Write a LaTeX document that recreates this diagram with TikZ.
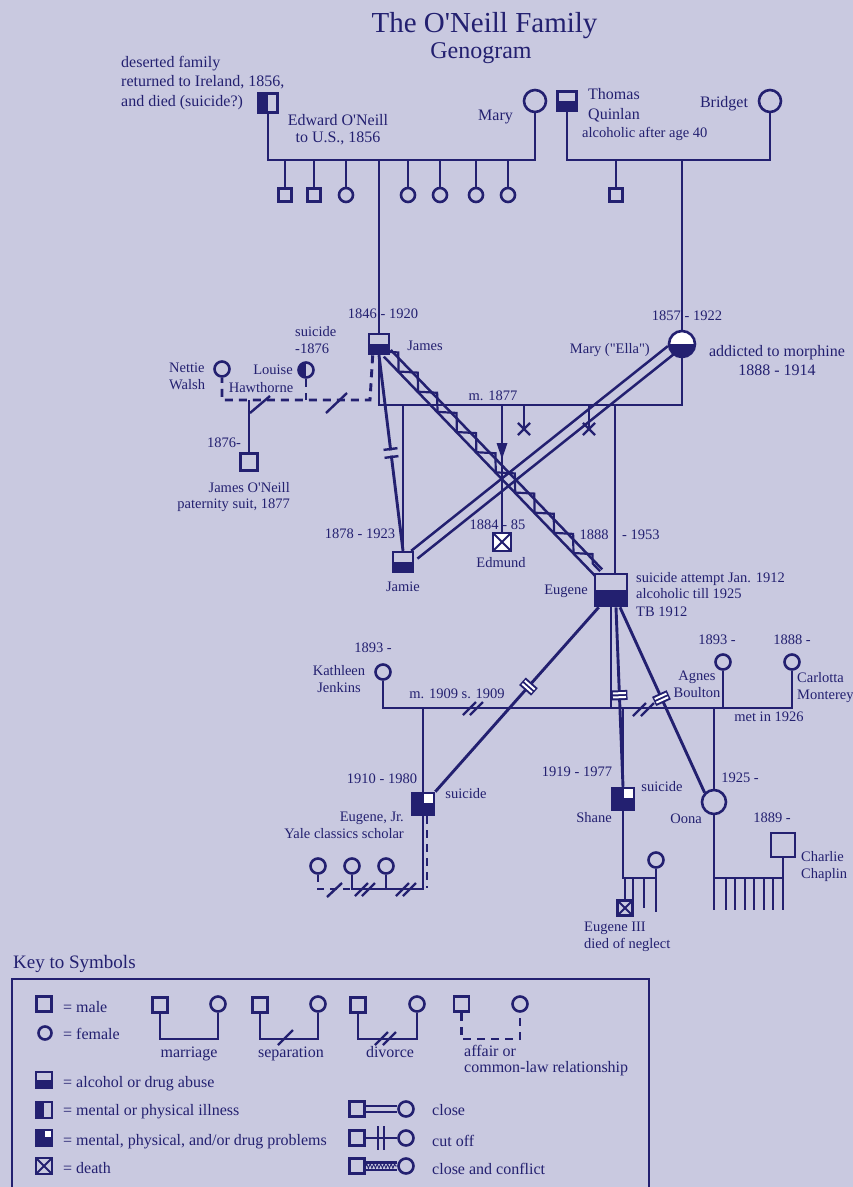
\documentclass[tikz,border=0pt]{standalone}
\usepackage{fontspec}
\setmainfont{Liberation Serif}[Ligatures=TeXOff]
\usetikzlibrary{calc,decorations.pathmorphing,decorations.markings,shapes.misc}
\definecolor{ink}{RGB}{35,32,112}
\definecolor{bgc}{RGB}{201,201,224}
\newcommand\railpair[4][]{%
  \draw[rail,#1] ($(#2)!#4!90:(#3)$) -- ($(#3)!#4!-90:(#2)$);
  \draw[rail,#1] ($(#2)!#4!-90:(#3)$) -- ($(#3)!#4!90:(#2)$);}
\begin{document}
\begin{tikzpicture}[x=1pt,y=-1pt,
  ln/.style={draw=ink,line width=2.9pt},
  mk/.style={draw=ink,line width=2.4pt},
  rail/.style={draw=ink,line width=2.5pt},
  dsh/.style={draw=ink,line width=2.9pt,dash pattern=on 8pt off 6pt},
  male/.style={draw=ink,line width=2.6pt,rectangle,minimum size=#1,inner sep=0pt},
  male/.default=18pt,
  fem/.style={draw=ink,line width=2.6pt,circle,minimum size=#1,inner sep=0pt},
  fem/.default=15pt,
  botfill/.style={path picture={\fill[ink] (path picture bounding box.west) rectangle (path picture bounding box.south east);}},
  leftfill/.style={path picture={\fill[ink] (path picture bounding box.north west) rectangle (path picture bounding box.south);}},
  ellafill/.style={path picture={\fill[white] (path picture bounding box.north west) rectangle (path picture bounding box.east);
     \fill[ink] (path picture bounding box.west) rectangle (path picture bounding box.south east);}},
  quad/.style={fill=ink,path picture={\fill[white] ($(path picture bounding box.north east)+(-#1,0)$) rectangle ($(path picture bounding box.north east)+(0,#1)$);}},
  dead/.style={path picture={\draw[ink,line width=1.9pt] (path picture bounding box.north west)--(path picture bounding box.south east) (path picture bounding box.north east)--(path picture bounding box.south west);}},
  txt/.style={text=ink,inner sep=0pt,font=\fontsize{14.5}{17}\selectfont,anchor=base},
  big/.style={text=ink,inner sep=0pt,font=\fontsize{16}{19}\selectfont,anchor=base},
  cutn/.style={postaction={decorate,decoration={markings,mark=at position #1 with {\fill[bgc] (-2.6,-3) rectangle (2.6,3); \draw[ink,line width=2.4pt] (-4,-7)--(-4,7) (4,-7)--(4,7);}}}},
  cutw/.style={postaction={decorate,decoration={markings,mark=at position #1 with {\fill[ink] (-5,-8) rectangle (5,8); \fill[white] (-3,-6.5) rectangle (-1,6.5) (1,-6.5) rectangle (3,6.5);}}}},
  arrowmark/.style={postaction={decorate,decoration={markings,mark=at position #1 with {\fill[ink] (-8,-5.5) -- (-8,5.5) -- (8,0) -- cycle;}}}},
  zz/.style={draw=ink,line width=2.2pt,decorate,decoration={zigzag,segment length=#1,amplitude=6.5pt}},
]
\fill[bgc] (0,0) rectangle (853,1187);
\useasboundingbox (0,0) rectangle (853,1187);

% ---------- title
\node[text=ink,inner sep=0pt,font=\fontsize{29}{32}\selectfont,anchor=base] (title) at (484.5,32) {The O'Neill Family};
\node[text=ink,inner sep=0pt,font=\fontsize{24}{28}\selectfont,anchor=base] (subtitle) at (481,58) {Genogram};

% ---------- O'Neill grandparents
\node[male=19pt,leftfill] (edfa) at (268,103) {};
\node[fem=22pt] (mary1) at (535,101) {};
\coordinate (m1) at (400,160);
\draw[ln] (edfa.south) |- (m1) -| (mary1.south);
\foreach \x/\n in {285/c1,314/c2} \node[male=13pt] (\n) at (\x,195) {};
\foreach \x/\n in {346/c3,408/c4,440/c5,476/c6,508/c7} \node[fem=14pt] (\n) at (\x,195) {};
\foreach \n in {c1,c2,c3,c4,c5,c6,c7} \draw[ln] (\n.north) -- (\n.north |- m1);
\node[big,anchor=base west] (la1) at (121,67) {deserted family};
\node[big,anchor=base west] (la2) at (121,86.5) {returned to Ireland, 1856,};
\node[big,anchor=base west] (la3) at (121,106) {and died (suicide?)};
\node[big] (la4) at (338,125) {Edward O'Neill};
\node[big] (la5) at (338,142) {to U.S., 1856};
\node[big] (la6) at (495.5,120) {Mary};

% ---------- Quinlan grandparents
\node[male=19pt,botfill] (thomas) at (567,101) {};
\node[fem=22pt] (bridget) at (770,101) {};
\coordinate (m2) at (682,160);
\draw[ln] (thomas.south) |- (m2) -| (bridget.south);
\node[male=13pt] (qc) at (616,195) {};
\draw[ln] (qc.north) -- (qc.north |- m2);
\node[big,anchor=base west] (lb1) at (588,99) {Thomas};
\node[big,anchor=base west] (lb2) at (588,119) {Quinlan};
\node[txt,anchor=base west] (lb3) at (582,137) {alcoholic after age 40};
\node[big] (lb4) at (724,107) {Bridget};

% ---------- James and Ella
\node[male=20pt,botfill] (james) at (379,344) {};
\draw[ln] (james.north) -- (james.north |- m1);
\node[fem=26pt,ellafill] (ella) at (682,344) {};
\draw[ln] (ella.north) -- (ella.north |- m2);
\coordinate (m3) at (500,405);
\draw[ln] (james.south) |- (m3) -| (ella.south);

\node[male=20pt,botfill] (jamie) at (403,562) {};
\draw[ln] (jamie.north) -- (jamie.north |- m3);
\node[male=18pt,fill=white,dead] (edmund) at (502,542) {};
\draw[ln,arrowmark=46pt] (edmund.north |- m3) -- (edmund.north);
\node[cross out,draw=ink,line width=2.2pt,minimum size=10pt,inner sep=0pt] (mc1) at (524,429) {};
\draw[ln] (mc1.center) -- (mc1.center |- m3);
\node[cross out,draw=ink,line width=2.2pt,minimum size=10pt,inner sep=0pt] (mc2) at (589,429) {};
\draw[ln] (mc2.center) -- (mc2.center |- m3);
\node[male=32pt,botfill] (eugene) at (611,590) {};
\coordinate (eugtop) at ($(eugene.north)+(4,0)$);
\draw[ln] (eugtop) -- (eugtop |- m3);

% cut off James - Jamie
\draw[ln,cutn=0.5] (james.south) -- (jamie.north);
% close and conflict James - Eugene
\coordinate (je1) at ($(james.south east)+(-3,-2)$);
\coordinate (je2) at ($(eugene.north west)+(5,0)$);
\railpair{je1}{je2}{4.8pt}
\coordinate (jz1) at ($(je1)!2pt!90:(je2)$);
\coordinate (jz2) at ($(je2)!2pt!-90:(je1)$);
\draw[zz=28pt] (jz1) -- (jz2);
% close Jamie - Ella
\coordinate (jm1) at ($(jamie.north east)+(0,4)$);
\coordinate (jm2) at ($(ella.center)+(-11,6)$);
\railpair{jm1}{jm2}{5pt}

% affairs of James
\node[fem=15pt] (nettie) at (222,369) {};
\node[fem=15pt,leftfill] (louise) at (306,370) {};
\coordinate (aff) at (370,400);
\draw[dsh] ($(james.south west)+(5,0)$) -- (aff) -| (nettie.south);
\draw[dsh] (louise.south) -- (louise.south |- aff);
\draw[mk] (326,413) -- (347,393);
\node[male=17pt] (haw) at (249,462) {};
\draw[ln] (haw.north) -- (haw.north |- aff);
\coordinate (hb) at (250,413);
\draw[mk] (hb) -- (270,396);

% labels middle
\node[txt] (lc1) at (383,318) {1846 - 1920};
\node[txt] (lc2) at (425,350) {James};
\node[txt,anchor=base west] (lc3) at (295,336) {suicide};
\node[txt,anchor=base west] (lc4) at (295,353) {-1876};
\node[txt] (lc5) at (273,374) {Louise};
\node[txt,anchor=base west] (lc6) at (169,372) {Nettie};
\node[txt,anchor=base west] (lc7) at (169,389) {Walsh};
\node[txt] (lc8) at (261,392) {Hawthorne};
\node[txt] (lc9) at (224,447) {1876-};
\node[txt,anchor=base east] (lc10) at (290,492) {James O'Neill};
\node[txt,anchor=base east] (lc11) at (290,508) {paternity suit, 1877};
\node[txt] (lc12) at (687,320) {1857 - 1922};
\node[txt,anchor=base east] (lc13) at (650,353) {Mary ("Ella")};
\node[big] (lc14) at (777,356) {addicted to morphine};
\node[big] (lc15) at (777,375) {1888 - 1914};
\node[txt] (lc16) at (493,400) {m. 1877};
\node[txt] (lc17) at (360,538) {1878 - 1923};
\node[txt] (lc18) at (403,591) {Jamie};
\node[txt] (lc19) at (497.5,529) {1884 - 85};
\node[txt] (lc20) at (501,567) {Edmund};
\node[txt] (lc21) at (594,539) {1888};
\node[txt,anchor=base west] (lc22) at (622,539) {- 1953};
\node[txt] (lc23) at (566,594) {Eugene};
\node[txt,anchor=base west] (lc24) at (636,582) {suicide attempt Jan. 1912};
\node[txt,anchor=base west] (lc25) at (636,598.5) {alcoholic till 1925};
\node[txt,anchor=base west] (lc26) at (636,616) {TB 1912};

% ---------- Eugene's marriages
\node[fem=15pt] (kathleen) at (383,672) {};
\node[fem=15pt] (agnes) at (723,662) {};
\node[fem=15pt] (carlotta) at (792,662) {};
\coordinate (m4) at (600,708);
\draw[ln] (kathleen.south) |- (m4) -| (carlotta.south);
\draw[ln] (agnes.south) -- (agnes.south |- m4);
\draw[ln] (eugene.south) -- (eugene.south |- m4);
\draw[mk] (463,715)--(476,702) (470,715)--(483,702);
\draw[mk] (633,716)--(646,703) (641,716)--(654,703);

\node[male=22pt,quad=10] (ejr) at (423,804) {};
\draw[ln] (ejr.north) -- (ejr.north |- m4);
\draw[ln,cutw=0.43] ($(eugene.south west)+(5,0)$) -- (ejr.north east);
\node[male=22pt,quad=10] (shane) at (623,799) {};
\draw[ln] (shane.north) -- (shane.north |- m4);
\draw[ln,cutw=0.49] ($(eugene.south)+(5,0)$) -- (shane.north);
\node[fem=24pt] (oona) at (714,802) {};
\draw[ln] (oona.north) -- (oona.north |- m4);
\draw[ln,cutw=0.49] ($(eugene.south)+(9,0)$) -- (oona.north west);

% Eugene Jr's wives
\node[fem=15pt] (w1) at (318,866) {};
\node[fem=15pt] (w2) at (352,866) {};
\node[fem=15pt] (w3) at (386,866) {};
\coordinate (m5) at (400,889);
\draw[ln] (ejr.south) |- (m5) -| (w2.south);
\draw[ln] (w3.south) -- (w3.south |- m5);
\draw[ink,line width=2.9pt,dash pattern=on 7pt off 6pt] (w1.south) |- (w2.south |- m5);
\coordinate (ejrb) at (427,888);
\draw[dsh] ($(ejr.south)+(4,0)$) -- (ejrb);
\draw[mk] (327,897)--(342,883);
\draw[mk] (355,896)--(368,883) (362,896)--(375,883);
\draw[mk] (396,896)--(409,883) (403,896)--(416,883);

% Shane's family
\node[fem=15pt] (sw) at (656,860) {};
\coordinate (m6) at (640,878);
\draw[ln] (shane.south) |- (m6) -| (sw.south);
\coordinate (swb) at (656,912);
\draw[ln] (sw.south) -- (swb);
\node[male=15pt,dead] (e3) at (625,908) {};
\draw[ln] (e3.north) -- (e3.north |- m6);
\coordinate (s1) at (633,908);
\coordinate (s2) at (644,908);
\draw[ln] (s1 |- m6) -- (s1);
\draw[ln] (s2 |- m6) -- (s2);

% Oona's family
\coordinate (ob) at (714,910);
\draw[ln] (oona.south) -- (ob);
\node[male=24pt] (charlie) at (783,845) {};
\coordinate (m7) at (750,878);
\draw[ln] (oona.south |- m7) -| (charlie.south);
\draw[ln] (charlie.south) -- (charlie.south |- ob);
\foreach \x in {726,735,745,754,764,773} {
  \coordinate (k\x) at (\x,910);
  \draw[ln] (k\x |- m7) -- (k\x);
}

% labels lower
\node[txt] (ld1) at (373,652) {1893 -};
\node[txt] (ld2) at (339,675) {Kathleen};
\node[txt] (ld3) at (339,692) {Jenkins};
\node[txt] (ld4) at (457,698) {m. 1909 s. 1909};
\node[txt] (ld5) at (382,783) {1910 - 1980};
\node[txt] (ld6) at (466,798) {suicide};
\node[txt,anchor=base east] (ld7) at (404,821) {Eugene, Jr.};
\node[txt,anchor=base east] (ld8) at (404,838) {Yale classics scholar};
\node[txt] (ld9) at (577,776) {1919 - 1977};
\node[txt] (ld10) at (662,791) {suicide};
\node[txt] (ld11) at (594,822) {Shane};
\node[txt] (ld12) at (717,644) {1893 -};
\node[txt] (ld13) at (697,680) {Agnes};
\node[txt] (ld14) at (697,697) {Boulton};
\node[txt] (ld15) at (792,644) {1888 -};
\node[txt,anchor=base west] (ld16) at (797,682) {Carlotta};
\node[txt,anchor=base west] (ld17) at (797,699) {Monterey};
\node[txt] (ld18) at (769,721) {met in 1926};
\node[txt] (ld19) at (740,782) {1925 -};
\node[txt] (ld20) at (686,823) {Oona};
\node[txt] (ld21) at (772,822) {1889 -};
\node[txt,anchor=base west] (ld22) at (801,861) {Charlie};
\node[txt,anchor=base west] (ld23) at (801,878) {Chaplin};
\node[txt,anchor=base west] (ld24) at (584,931) {Eugene III};
\node[txt,anchor=base west] (ld25) at (584,948) {died of neglect};

% ---------- key
\node[text=ink,inner sep=0pt,font=\fontsize{19}{22}\selectfont,anchor=base west] (keyt) at (13,968) {Key to Symbols};
\draw[ink,line width=1.5pt] (12,979) rectangle (649,1210);
\node[male=15pt] (k1) at (44,1004) {};
\node[big,anchor=base west] (kt1) at (63,1012) {= male};
\node[fem=13pt] (k2) at (45,1033) {};
\node[big,anchor=base west] (kt2) at (63,1039) {= female};

\node[male=15pt] (ka1) at (160,1005) {};
\node[fem=15pt] (ka2) at (218,1004) {};
\coordinate (kam) at (190,1039);
\draw[ln] (ka1.south) |- (kam) -| (ka2.south);
\node[big] (kt3) at (189,1057) {marriage};

\node[male=15pt] (ks1) at (260,1005) {};
\node[fem=15pt] (ks2) at (318,1004) {};
\coordinate (ksm) at (290,1039);
\draw[ln] (ks1.south) |- (ksm) -| (ks2.south);
\draw[mk] (278,1045)--(293,1030);
\node[big] (kt4) at (291,1057) {separation};

\node[male=15pt] (kd1) at (358,1005) {};
\node[fem=15pt] (kd2) at (417,1004) {};
\coordinate (kdm) at (388,1039);
\draw[ln] (kd1.south) |- (kdm) -| (kd2.south);
\draw[mk] (375,1045)--(388,1032) (383,1045)--(396,1032);
\node[big] (kt5) at (390,1057) {divorce};

\node[male=15pt] (kf1) at (461.5,1004) {};
\node[fem=15pt] (kf2) at (520,1004) {};
\coordinate (kfm) at (490,1039);
\draw[dsh] (kf1.south) |- (kfm) -| (kf2.south);
\node[big,anchor=base west] (kt6) at (464,1056) {affair or};
\node[big,anchor=base west] (kt7) at (464,1072) {common-law relationship};

\node[male=16pt,botfill] (ka) at (44,1080) {};
\node[big,anchor=base west] (kt8) at (63,1087) {= alcohol or drug abuse};
\node[male=16pt,leftfill] (ki) at (44,1110) {};
\node[big,anchor=base west] (kt9) at (63,1115) {= mental or physical illness};
\node[male=16pt,quad=7] (kp) at (44,1138) {};
\node[big,anchor=base west] (kt10) at (63,1145) {= mental, physical, and/or drug problems};
\node[male=16pt,dead] (kx) at (44,1166) {};
\node[big,anchor=base west] (kt11) at (63,1173) {= death};

\node[male=15pt] (kc1) at (357,1109) {};
\node[fem=15pt] (kc2) at (406,1109) {};
\railpair[line width=2.2pt]{kc1.east}{kc2.west}{3.3pt}
\node[big,anchor=base west] (kt12) at (432,1115) {close};

\node[male=15pt] (kco1) at (357,1138) {};
\node[fem=15pt] (kco2) at (406,1138) {};
\draw[ln] (kco1.east) -- (kco2.west);
\draw[ink,line width=2.4pt] (378,1126)--(378,1150) (384,1126)--(384,1150);
\node[big,anchor=base west] (kt13) at (432,1146) {cut off};

\node[male=15pt] (kcc1) at (357,1166) {};
\node[fem=15pt] (kcc2) at (406,1166) {};
\railpair[line width=2.2pt]{kcc1.east}{kcc2.west}{3.6pt}
\draw[ink,line width=0.9pt,decorate,decoration={zigzag,segment length=3.5pt,amplitude=2.2pt}] (kcc1.east) -- (kcc2.west);
\node[big,anchor=base west] (kt14) at (432,1174) {close and conflict};
\end{tikzpicture}
\end{document}
